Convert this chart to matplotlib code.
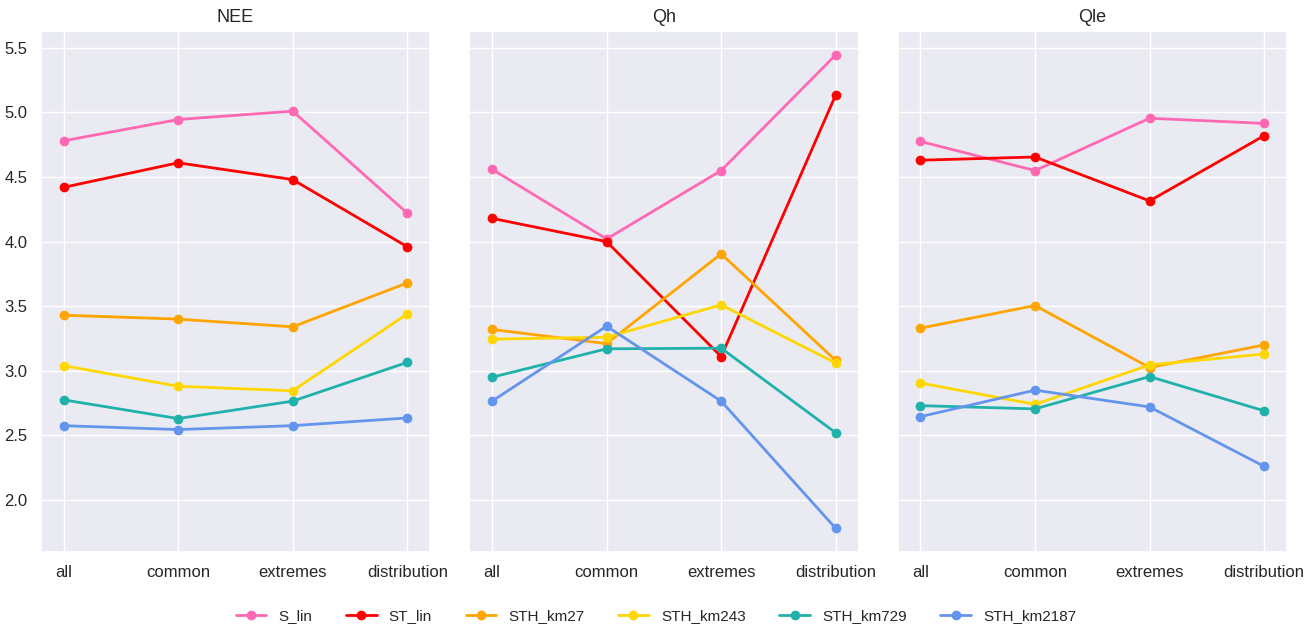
import matplotlib
matplotlib.use("Agg")
import matplotlib.pyplot as plt
import seaborn as sns

sns.set_theme(style="darkgrid")
plt.rcParams['font.family'] = ['Liberation Sans', 'DejaVu Sans']

categories = ["all", "common", "extremes", "distribution"]
panels = ["NEE", "Qh", "Qle"]
series_names = ["S_lin", "ST_lin", "STH_km27", "STH_km243", "STH_km729", "STH_km2187"]
colors = ["#ff69b4", "#ff0000", "#ffa500", "#ffd700", "#20b2aa", "#6495ed"]

NEE = {
    "S_lin":      [4.78, 4.945, 5.01, 4.22],
    "ST_lin":     [4.42, 4.61, 4.48, 3.96],
    "STH_km27":   [3.43, 3.40, 3.34, 3.68],
    "STH_km243":  [3.04, 2.88, 2.845, 3.44],
    "STH_km729":  [2.775, 2.63, 2.765, 3.065],
    "STH_km2187": [2.575, 2.545, 2.575, 2.635],
}
Qh = {
    "S_lin":      [4.56, 4.02, 4.55, 5.445],
    "ST_lin":     [4.18, 4.00, 3.11, 5.135],
    "STH_km27":   [3.32, 3.21, 3.905, 3.08],
    "STH_km243":  [3.245, 3.26, 3.51, 3.06],
    "STH_km729":  [2.95, 3.17, 3.175, 2.52],
    "STH_km2187": [2.765, 3.345, 2.765, 1.78],
}
Qle = {
    "S_lin":      [4.775, 4.55, 4.955, 4.915],
    "ST_lin":     [4.63, 4.655, 4.315, 4.82],
    "STH_km27":   [3.33, 3.505, 3.025, 3.20],
    "STH_km243":  [2.905, 2.74, 3.045, 3.13],
    "STH_km729":  [2.73, 2.705, 2.955, 2.69],
    "STH_km2187": [2.645, 2.85, 2.72, 2.26],
}
data = [NEE, Qh, Qle]

fig, axes = plt.subplots(1, 3, figsize=(13.12, 6.28), dpi=100, sharey=True)
fig.subplots_adjust(left=0.031, right=0.981, top=0.951, bottom=0.121, wspace=0.10)

x = list(range(len(categories)))
for ax, title, d in zip(axes, panels, data):
    for name, c in zip(series_names, colors):
        ax.plot(x, d[name], color=c, marker="o", markersize=6, linewidth=2, label=name)
    ax.set_title(title, fontsize=13, pad=6)
    ax.set_xticks(x)
    ax.set_xticklabels(categories, fontsize=12)
    ax.set_xlim(-0.2, 3.2)
    ax.tick_params(axis="y", labelsize=12)
axes[0].set_ylim(1.597, 5.632)
axes[0].set_yticks([2.0, 2.5, 3.0, 3.5, 4.0, 4.5, 5.0, 5.5])

handles, labels = axes[0].get_legend_handles_labels()
fig.legend(handles, labels, loc="lower center", ncol=6, frameon=False,
           fontsize=11, bbox_to_anchor=(0.5, -0.014), columnspacing=2.2)

fig.savefig("out.png", dpi=100)
